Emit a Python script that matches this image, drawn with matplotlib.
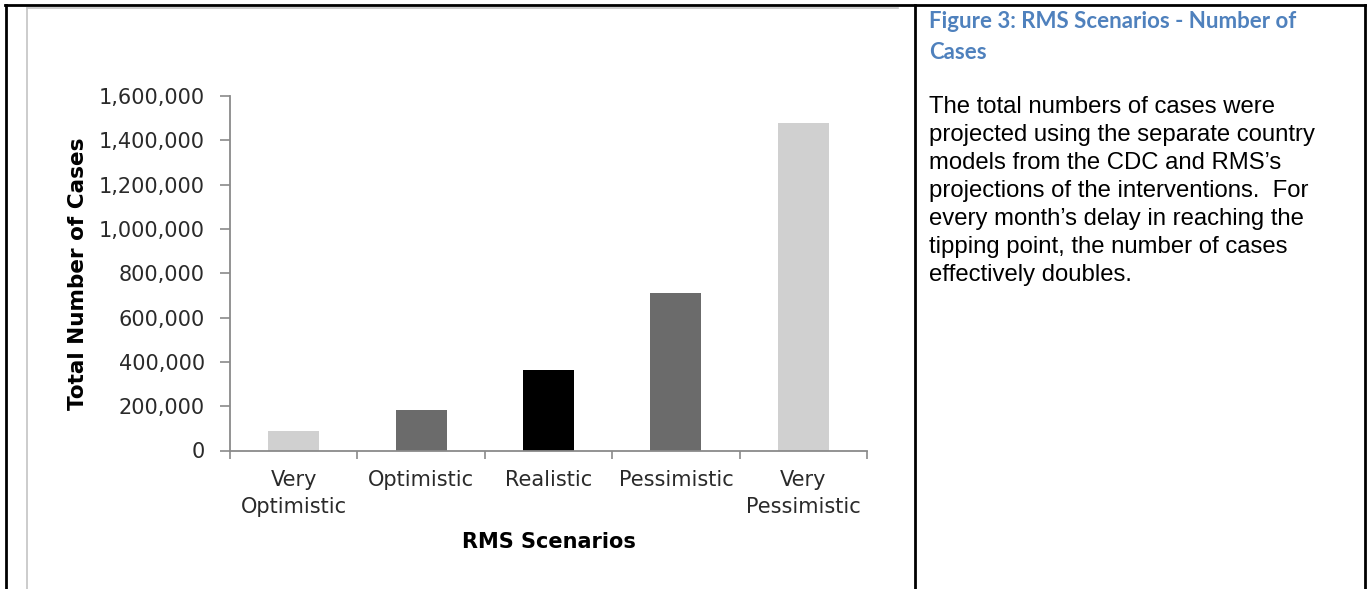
import numpy as np
import matplotlib
matplotlib.use("Agg")
import matplotlib.pyplot as plt
from matplotlib.lines import Line2D

# Data
scenarios = ["Very\nOptimistic", "Optimistic", "Realistic", "Pessimistic", "Very\nPessimistic"]
cases = [87000, 185000, 362000, 712000, 1480000]
bar_colors = ["#d0d0d0", "#6b6b6b", "#000000", "#6b6b6b", "#d0d0d0"]
y_ticks = [0, 200000, 400000, 600000, 800000, 1000000, 1200000, 1400000, 1600000]

caption_title = "Figure 3: RMS Scenarios - Number of\nCases"
caption_body = ("The total numbers of cases were\n"
                "projected using the separate country\n"
                "models from the CDC and RMS\u2019s\n"
                "projections of the interventions.  For\n"
                "every month\u2019s delay in reaching the\n"
                "tipping point, the number of cases\n"
                "effectively doubles.")

W, H = 1367, 589
fig = plt.figure(figsize=(W / 100, H / 100), dpi=100)


def px(x, y):
    # pixel coords (top-left origin) -> figure fraction
    return x / W, 1 - y / H


# axes placement
ax_l, ax_r, ax_t, ax_b = 230, 867, 96, 450.5
ax = fig.add_axes([ax_l / W, 1 - ax_b / H, (ax_r - ax_l) / W, (ax_b - ax_t) / H])

x = np.arange(len(scenarios))
ax.bar(x, cases, width=0.4, color=bar_colors, edgecolor="none")

ax.set_xlim(-0.5, len(scenarios) - 0.5)
ax.set_ylim(0, 1600000)
ax.set_yticks(y_ticks)
ax.set_yticklabels([f"{v:,}" for v in y_ticks])
ax.set_xticks(x)
ax.set_xticklabels(scenarios)
ax.set_xticks(np.arange(-0.5, len(scenarios)), minor=True)

for s in ["top", "right"]:
    ax.spines[s].set_visible(False)
for s in ["left", "bottom"]:
    ax.spines[s].set_color("#8a8a8a")
    ax.spines[s].set_linewidth(1.3)

ax.tick_params(axis="y", length=7, width=1.2, color="#8a8a8a", pad=11,
               labelsize=15, labelcolor="#2a2a2a")
ax.tick_params(axis="x", which="major", length=0, pad=14,
               labelsize=15, labelcolor="#2a2a2a")
ax.tick_params(axis="x", which="minor", length=6, width=1.2, color="#8a8a8a")
for lab in ax.get_xticklabels():
    lab.set_linespacing(1.45)

ax.set_ylabel("Total Number of Cases", fontsize=15.5, fontweight="bold", labelpad=8)
ax.set_xlabel("RMS Scenarios", fontsize=15, fontweight="bold", labelpad=11)

# gray chart frame
frame_kw = dict(color="#c4c4c4", linewidth=1.2, transform=fig.transFigure)
fig.add_artist(Line2D(*zip(px(27, 8), px(898, 8)), **frame_kw))
fig.add_artist(Line2D(*zip(px(27, 8), px(27, 589)), **frame_kw))

# black table borders
border_kw = dict(color="black", linewidth=2, transform=fig.transFigure)
fig.add_artist(Line2D(*zip(px(5, 5), px(1365, 5)), **border_kw))
fig.add_artist(Line2D(*zip(px(6, 5), px(6, 589)), **border_kw))
fig.add_artist(Line2D(*zip(px(915, 5), px(915, 589)), **border_kw))
fig.add_artist(Line2D(*zip(px(1365, 5), px(1365, 589)), **border_kw))

# caption text
fig.text(*px(929, 11), caption_title, ha="left", va="top", fontsize=16,
         fontweight="bold", color="#4f81bd", family=["Lato", "DejaVu Sans"],
         linespacing=1.6)
fig.text(*px(929, 96), caption_body, ha="left", va="top", fontsize=17.2,
         color="black", family=["Liberation Sans", "DejaVu Sans"],
         linespacing=1.35)

fig.savefig("out.png", dpi=100)
